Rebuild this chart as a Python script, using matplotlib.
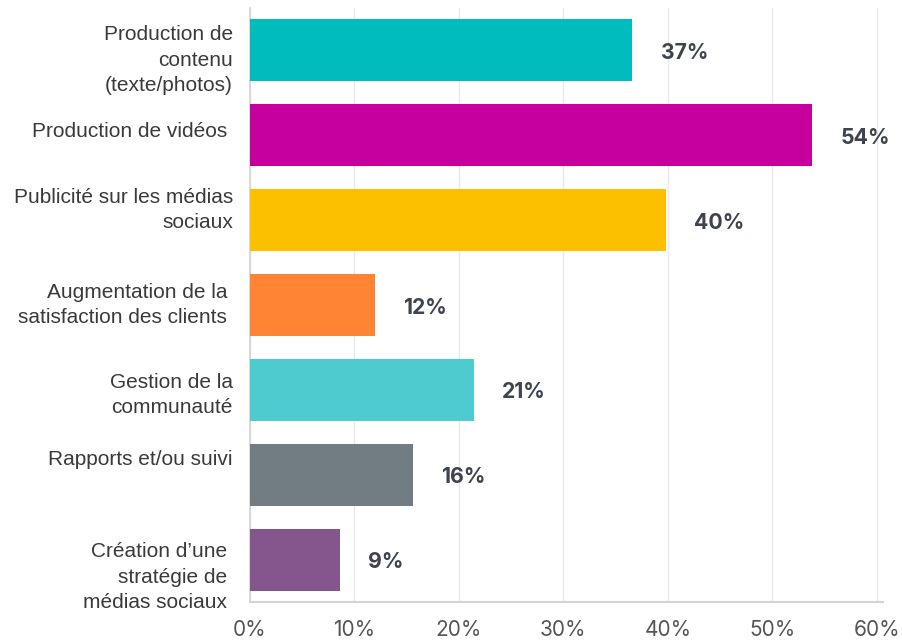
import matplotlib.pyplot as plt
import matplotlib.transforms as mtransforms
import numpy as np

categories = [
    "Production de\ncontenu\n(texte/photos)",
    "Production de vidéos ",
    "Publicité sur les médias\nsociaux",
    "Augmentation de la \nsatisfaction des clients ",
    "Gestion de la\ncommunauté",
    "Rapports et/ou suivi",
    "Création d’une \nstratégie de \nmédias sociaux ",
]
values = [36.6, 53.8, 39.8, 12.0, 21.4, 15.6, 8.6]
colors = ["#00BDBD", "#C5009F", "#FDC000", "#FF8534", "#4ECBCF", "#717C83", "#85558E"]
xticks = [0, 10, 20, 30, 40, 50, 60]

# last-line baseline of each category label relative to its bar centre, px (positive = down)
label_shift = [40.5, 1.5, 8, 18, 23, -9.5, 48.5]

fig = plt.figure(figsize=(9.03, 6.40), dpi=100)
ax = fig.add_axes([250 / 903, 1 - 602 / 640, 633 / 903, 594 / 640])

y = np.arange(len(categories))
ax.barh(y, values, height=0.73, color=colors, zorder=3)

# value labels to the right of each bar
for yi, v in zip(y, values):
    ax.text(v + 2.7, yi + 0.03, f"{v:.0f}%", va="center", ha="left",
            fontsize=15.3, fontweight="bold", color="#3D4450", family="Inter")

ax.set_xlim(0, 60.6)
ax.set_ylim(len(categories) - 0.5, -0.5)

# category labels, drawn by hand so each one can be nudged
ax.set_yticks(y)
ax.set_yticklabels([])
base = mtransforms.blended_transform_factory(ax.transAxes, ax.transData)
for yi, lab, dy in zip(y, categories, label_shift):
    tr = base + mtransforms.ScaledTranslation(-17 / 100, -dy / 100, fig.dpi_scale_trans)
    ax.text(0, yi, lab, transform=tr, ha="right", va="baseline", multialignment="right",
            fontsize=15, color="#3A3A3A", family="Liberation Sans", linespacing=1.42)

ax.set_xticks(xticks)
ax.set_xticklabels([f"{t}%" for t in xticks], fontsize=15, color="#555555",
                   family="Inter")
ax.tick_params(axis="y", length=0)
ax.tick_params(axis="x", length=0, pad=13)

ax.grid(axis="x", color="#E8E8E8", linewidth=1, zorder=0)
for side in ["top", "right"]:
    ax.spines[side].set_visible(False)
ax.spines["left"].set_color("#D4D4D4")
ax.spines["bottom"].set_color("#D4D4D4")
ax.spines["left"].set_linewidth(1.2)
ax.spines["bottom"].set_linewidth(1.5)

fig.savefig("out.png", dpi=100)
